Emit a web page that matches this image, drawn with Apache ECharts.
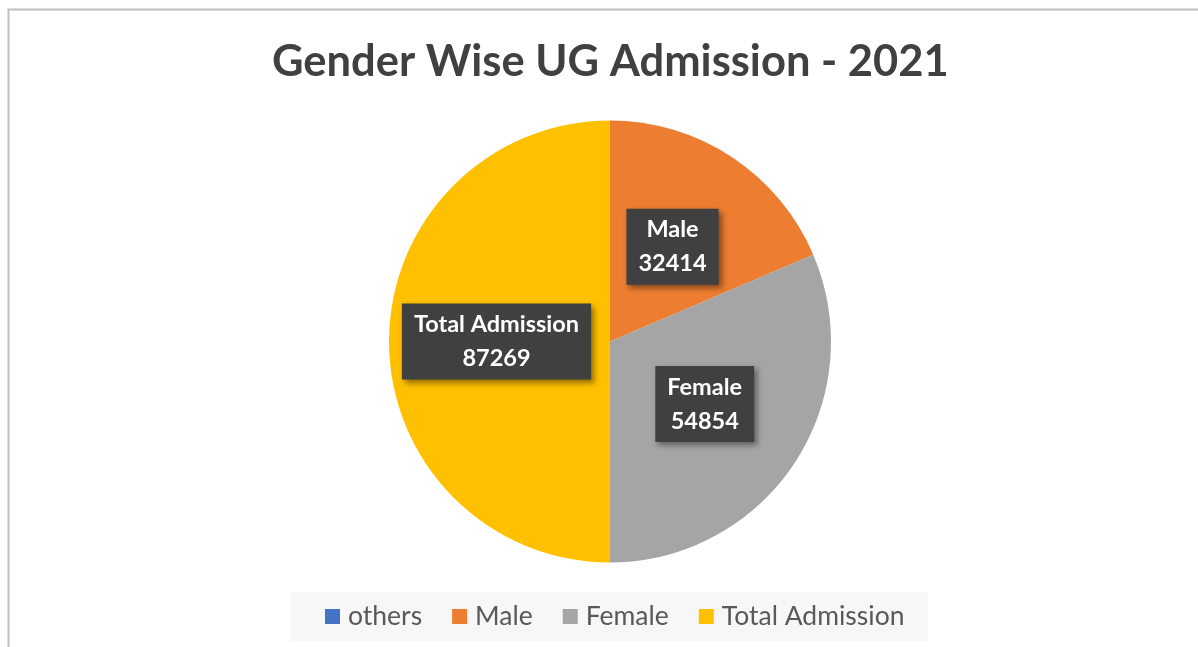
<!DOCTYPE html>
<html>
<head>
<meta charset="utf-8">
<script src="https://cdn.jsdelivr.net/npm/echarts@6/dist/echarts.min.js"></script>
<style>
  html, body { margin: 0; padding: 0; background: #fff; }
  #chart { width: 1198px; height: 647px; }
</style>
</head>
<body>
<div id="chart"></div>
<script>
// data
const categories = ['others', 'Male', 'Female', 'Total Admission'];
const admissions = [1, 32414, 54854, 87269];
const colors = ['#4472C4', '#ED7D31', '#A5A5A5', '#FFC000'];

const chart = echarts.init(document.getElementById('chart'));

const pieData = categories.map((name, i) => ({
  name,
  value: admissions[i],
  itemStyle: { color: colors[i] },
  label: { show: name !== 'others' },
}));

chart.setOption({
  animation: false,
  title: {
    text: 'Gender Wise UG Admission - 2021',
    left: 267,
    top: 35,
    textStyle: {
      fontFamily: 'Lato',
      fontSize: 43.5,
      fontWeight: 'bold',
      color: '#404040',
    },
  },
  graphic: [
    {
      type: 'rect',
      shape: { x: 8.5, y: 9.5, width: 1300, height: 800 },
      style: { fill: 'none', stroke: '#c0c0c0', lineWidth: 2 },
      z: -10,
    },
    {
      type: 'rect',
      shape: { x: 290, y: 592, width: 638, height: 49 },
      style: { fill: '#f7f7f7' },
      z: -5,
    },
  ],
  legend: {
    top: 598,
    left: 320,
    itemWidth: 15,
    itemHeight: 15,
    itemGap: 30,
    icon: 'rect',
    selectedMode: false,
    textStyle: {
      fontFamily: 'Lato',
      fontSize: 26.5,
      color: '#595959',
      padding: [0, 0, 0, 3],
    },
    data: categories,
  },
  series: [
    {
      type: 'pie',
      center: [610, 341.5],
      radius: 221,
      startAngle: 90,
      clockwise: true,
      avoidLabelOverlap: false,
      itemStyle: { borderWidth: 0 },
      label: {
        position: 'inside',
        formatter: '{b}\n{c}',
        fontFamily: 'Lato',
        fontSize: 23.5,
        fontWeight: 'bold',
        lineHeight: 34,
        color: '#ffffff',
        backgroundColor: '#404040',
        padding: [5, 12, 3, 12],
        shadowColor: 'rgba(0,0,0,0.45)',
        shadowBlur: 6,
        shadowOffsetX: 3,
        shadowOffsetY: 3,
      },
      labelLine: { show: false },
      emphasis: { disabled: true },
      data: pieData,
    },
  ],
});
</script>
</body>
</html>
